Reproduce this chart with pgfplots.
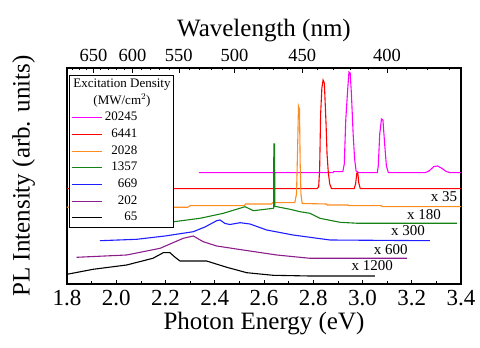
\documentclass[border=0pt]{standalone}
\usepackage{pgfplots}
\pgfplotsset{compat=1.18}
\usepackage{fontspec}
\setmainfont{Liberation Serif}
\definecolor{cMag}{RGB}{255,0,255}
\definecolor{cRed}{RGB}{255,0,0}
\definecolor{cOra}{RGB}{255,140,30}
\definecolor{cGre}{RGB}{20,130,20}
\definecolor{cBlu}{RGB}{30,30,255}
\definecolor{cPur}{RGB}{140,30,140}
\begin{document}
\begin{tikzpicture}
\begin{axis}[name=main,
  scale only axis, width=394pt, height=216pt,
  xmin=1.8, xmax=3.4, ymin=0, ymax=216,
  xtick={1.8,2.0,...,3.4}, minor x tick num=1,
  xticklabels={\textrm{1.8},\textrm{2.0},\textrm{2.2},\textrm{2.4},\textrm{2.6},\textrm{2.8},\textrm{3.0},\textrm{3.2},\textrm{3.4}},
  xtick pos=bottom, ytick=\empty,
  tick align=inside,
  major tick length=4pt, minor tick length=3pt,
  tick style={black, line width=0.7pt},
  axis line style={line width=1.2pt},
  xticklabel style={font=\fontsize{23}{23}\selectfont, yshift=-3pt},
  xlabel={Photon Energy (eV)},
  ylabel={PL Intensity (arb. units)},
  every axis x label/.style={at={(axis description cs:0.5,-0.185)}, anchor=center, font=\fontsize{25}{25}\selectfont},
  every axis y label/.style={at={(axis description cs:-0.11,0.5)}, rotate=90, anchor=center, font=\fontsize{25}{25}\selectfont},
  legend image code/.code={\draw[#1, line width=1.1pt] (0pt,0pt) -- (30pt,0pt);},
  legend cell align=left,
  legend style={at={(0.005,0.968)}, anchor=north west, draw=black, line width=0.8pt, fill=white,
    font=\fontsize{13}{13}\selectfont, row sep=2.7pt, inner sep=2pt,
    nodes={text height=9pt, text depth=3pt, inner sep=1pt}},
  every axis plot/.append style={line width=1.1pt},
]
\addlegendimage{empty legend}\addlegendentry{\hspace*{-30pt}Excitation Density}
\addlegendimage{empty legend}\addlegendentry{\hspace*{-10pt}(MW/cm$^2$)}
\addplot[cMag] coordinates {(2.336,111.3) (2.880,111.3) (2.882,112.3) (2.920,112.3) (2.926,120) (2.932,164) (2.940,195) (2.945,212) (2.950,211) (2.955,190) (2.962,150) (2.968,125) (2.974,113) (2.985,111.3) (3.060,111.3) (3.064,118) (3.070,150) (3.077,165) (3.083,164) (3.090,140) (3.097,118) (3.105,111.3) (3.254,111.3) (3.270,113) (3.290,117.5) (3.305,118) (3.320,116) (3.340,112.5) (3.355,111.3) (3.400,111.3)};
\addlegendentry{\makebox[34pt][r]{20245}}
\addplot[cRed] coordinates {(1.8,95.3) (2.815,95.3) (2.822,97) (2.826,115) (2.830,170) (2.835,196) (2.840,204) (2.845,201) (2.849,178) (2.852,160) (2.856,130) (2.861,112) (2.867,100) (2.874,95.3) (2.966,95.3) (2.972,100) (2.977,111) (2.981,111) (2.985,101) (2.991,95.3) (3.4,95.3)};
\addlegendentry{\makebox[34pt][r]{6441}}
\addplot[cOra] coordinates {(1.8,76.7) (2.29,76.7) (2.30,78.3) (2.52,78.3) (2.525,80) (2.63,80) (2.635,81.3) (2.725,81.3) (2.732,90) (2.736,130) (2.740,178) (2.744,175) (2.747,120) (2.750,90) (2.755,80.5) (2.855,80) (2.856,79) (2.942,79) (2.943,78.3) (3.078,78.3) (3.079,77.3) (3.4,77.3)};
\addlegendentry{\makebox[34pt][r]{2028}}
\addplot[cGre] coordinates {(2.05,57) (2.15,59) (2.235,62.3) (2.340,65.7) (2.435,70.7) (2.523,77.3) (2.557,73.3) (2.638,75.7) (2.639,76) (2.640,140) (2.643,140) (2.644,77.3) (2.652,77.3) (2.706,74.7) (2.746,72.3) (2.787,70.7) (2.827,65.7) (2.909,61.7) (2.983,60.7) (3.383,60.7)};
\addlegendentry{\makebox[34pt][r]{1357}}
\addplot[cBlu] coordinates {(1.934,43.3) (2.083,44.7) (2.198,48) (2.313,52.3) (2.360,57) (2.408,63.3) (2.421,64) (2.442,60.5) (2.462,59.5) (2.503,61.3) (2.543,60) (2.611,54) (2.718,49) (2.787,46.7) (2.868,44) (3.274,43.3)};
\addlegendentry{\makebox[34pt][r]{669}}
\addplot[cPur] coordinates {(1.839,26.7) (2.042,29) (2.178,35.7) (2.272,45.7) (2.313,48) (2.353,42.3) (2.408,38) (2.515,34) (2.652,29) (2.787,25.7) (3.181,25.7)};
\addlegendentry{\makebox[34pt][r]{202}}
\addplot[black] coordinates {(1.800,9.7) (1.906,14.7) (2.042,19) (2.149,25.7) (2.191,31.3) (2.218,31.3) (2.239,26.7) (2.259,23) (2.367,23) (2.449,16.7) (2.530,11.3) (2.637,8.7) (2.787,8) (3.050,8)};
\addlegendentry{\makebox[34pt][r]{65}}
\node[font=\fontsize{15}{15}\selectfont] at (axis cs:3.331,87) {x 35};
\node[font=\fontsize{15}{15}\selectfont] at (axis cs:3.250,69) {x 180};
\node[font=\fontsize{15}{15}\selectfont] at (axis cs:3.185,53) {x 300};
\node[font=\fontsize{15}{15}\selectfont] at (axis cs:3.115,34) {x 600};
\node[font=\fontsize{15}{15}\selectfont] at (axis cs:3.040,18) {x 1200};
\end{axis}
\begin{axis}[
  at={(main.south west)}, anchor=south west,
  scale only axis, width=394pt, height=216pt,
  xmin=1.8, xmax=3.4, ymin=0, ymax=216,
  axis x line*=top, axis y line=none,
  tick align=inside,
  major tick length=5pt, minor tick length=2.5pt,
  tick style={black, line width=0.7pt},
  axis line style={line width=1.2pt},
  xtick={1.9075,2.0664,2.2543,2.4797,2.7552,3.0996},
  xticklabels={\textrm{650},\textrm{600},\textrm{550},\textrm{500},\textrm{450},\textrm{400}},
  minor xtick={1.8233,1.8505,1.8785,1.9373,1.9680,1.9997,2.0325,2.1014,2.1377,2.1752,2.2140,2.2960,2.3393,2.3843,2.4311,2.5303,2.5830,2.6380,2.6953,2.8178,2.8833,2.9520,3.0240,3.1791,3.2627,3.3509},
  xticklabel style={font=\fontsize{18.5}{18.5}\selectfont, yshift=3pt},
  xlabel={Wavelength (nm)},
  every axis x label/.style={at={(axis description cs:0.5,1.175)}, anchor=center, font=\fontsize{25}{25}\selectfont},
]
\addplot[draw=none] coordinates {(2,0)};
\end{axis}
\pgfresetboundingbox
\path[use as bounding box] ([shift={(-67pt,-64pt)}]main.south west) rectangle ([shift={(413pt,284pt)}]main.south west);
\end{tikzpicture}
\end{document}
